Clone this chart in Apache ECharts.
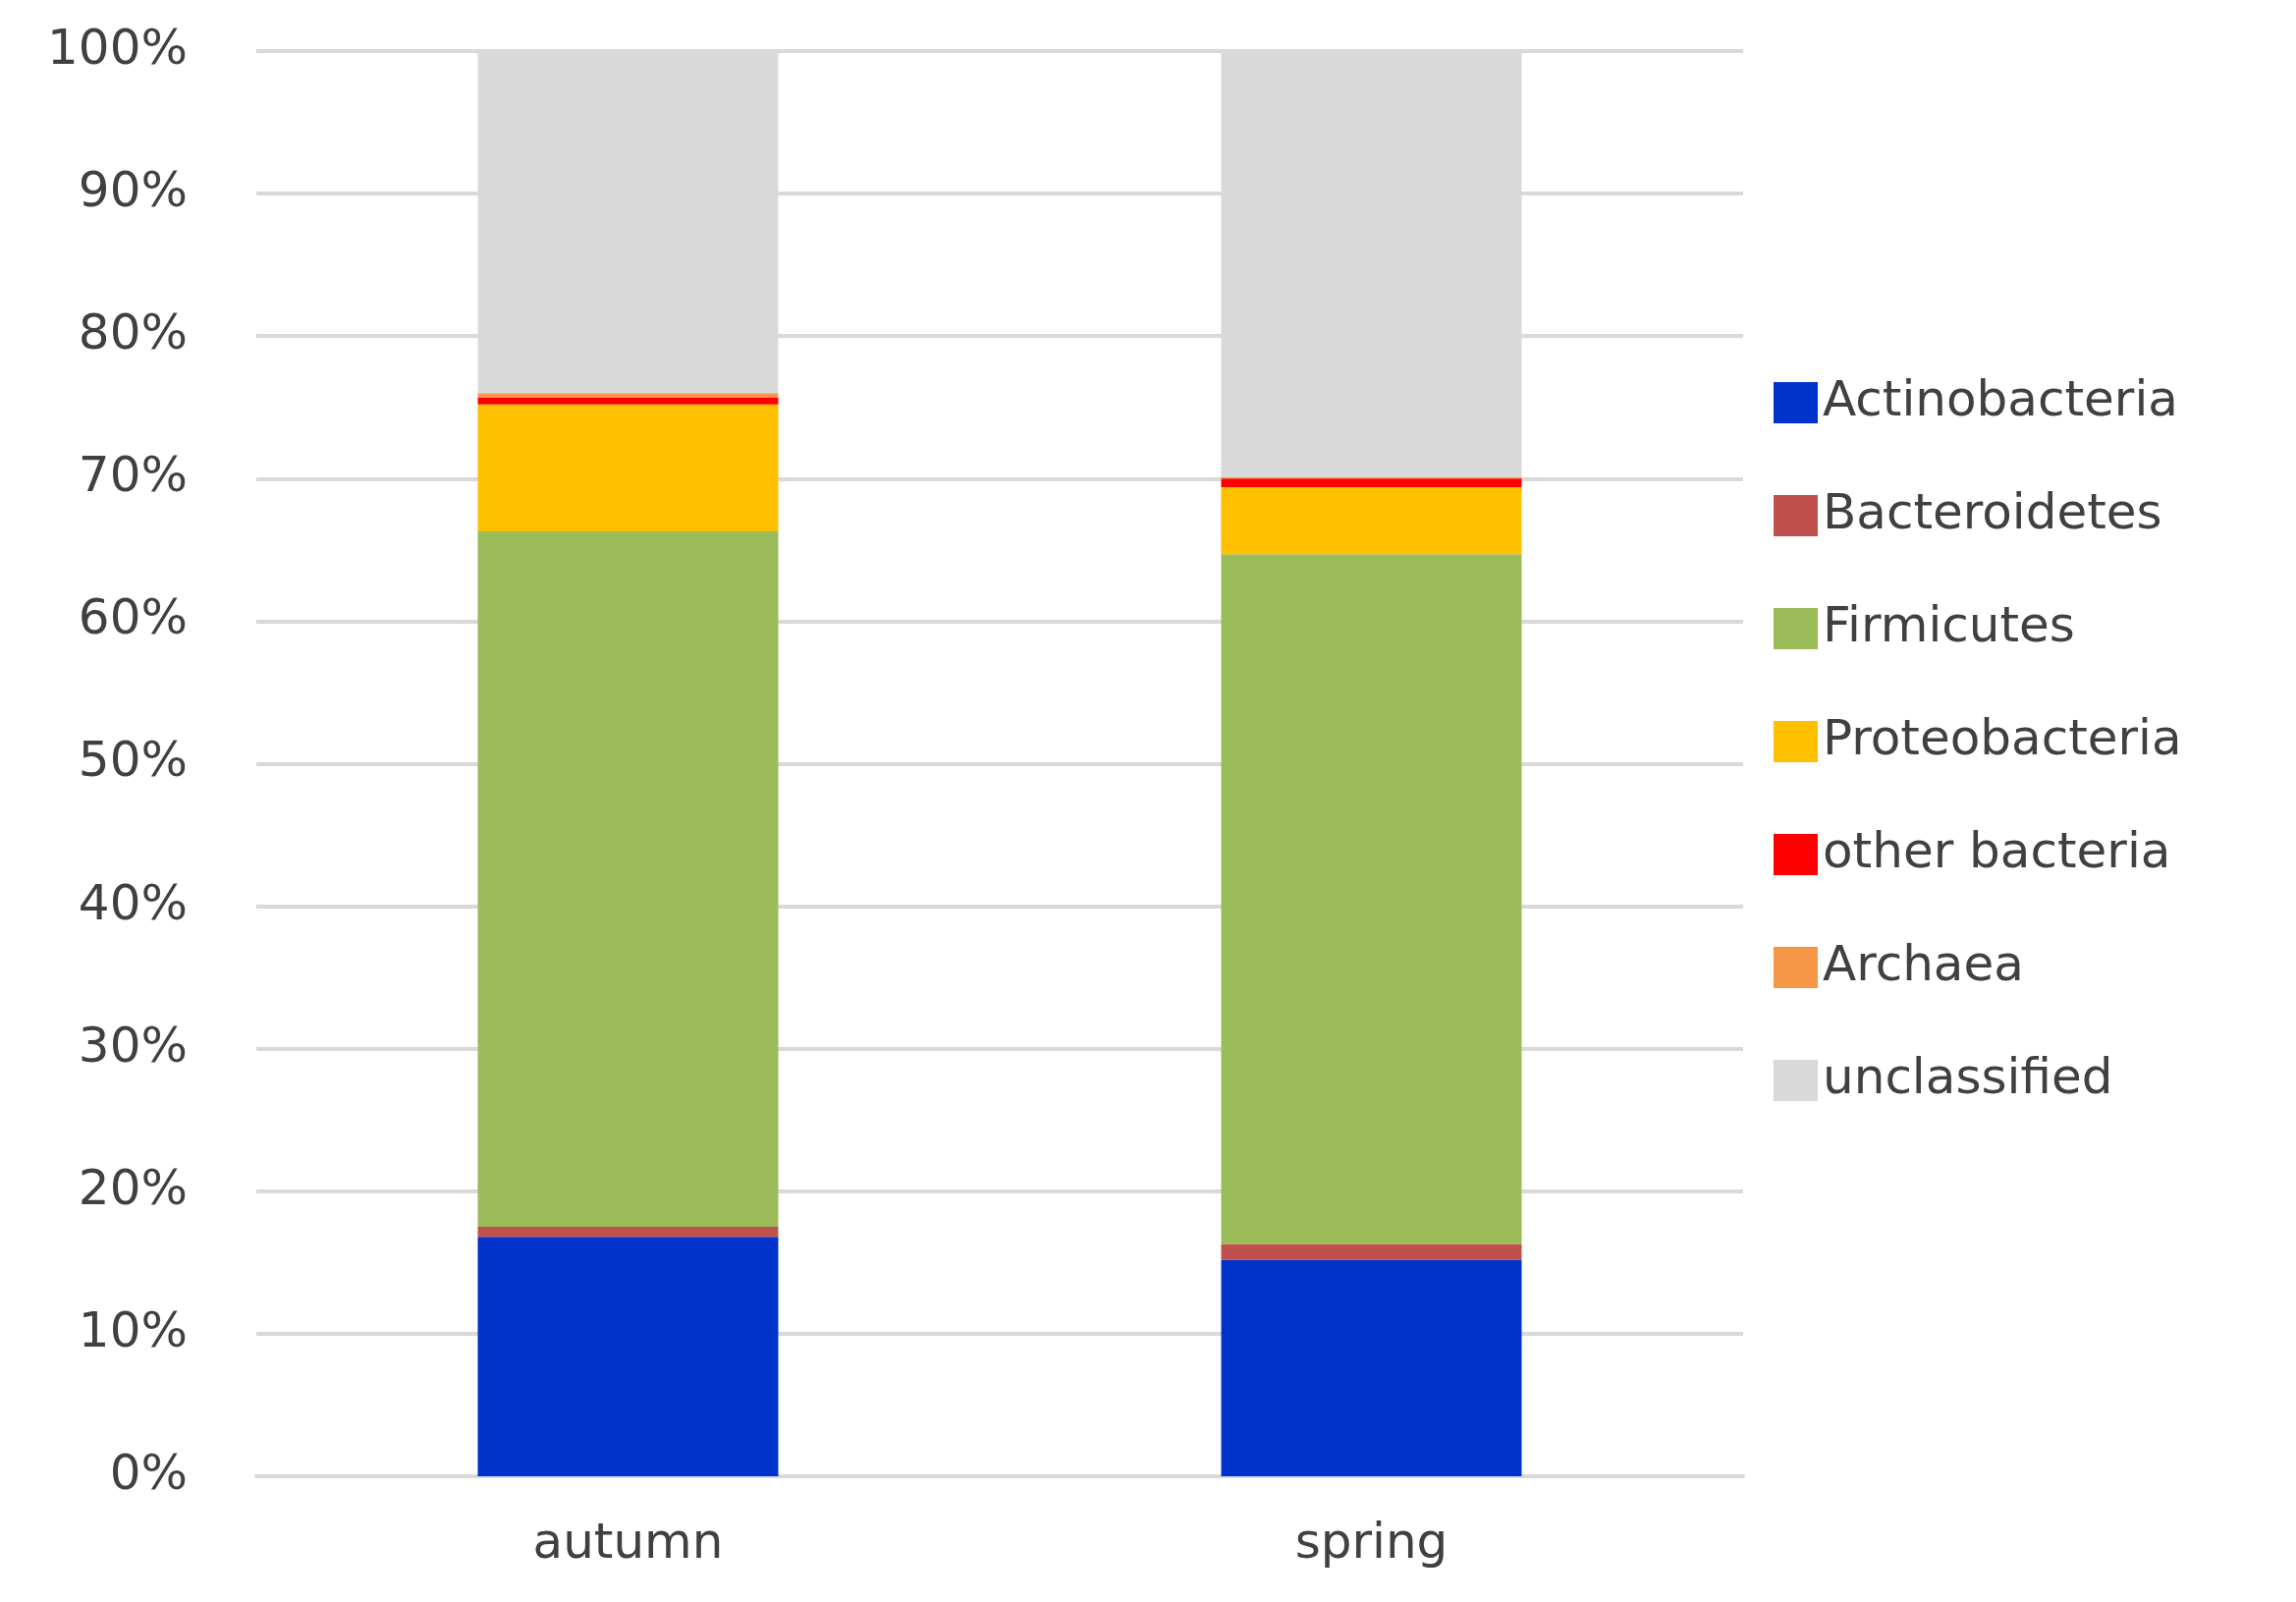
<!DOCTYPE html>
<html>
<head>
<meta charset="utf-8">
<script src="https://cdn.jsdelivr.net/npm/echarts@6/dist/echarts.min.js"></script>
<style>html,body{margin:0;padding:0;background:#fff}#chart{width:2338px;height:1631px}</style>
</head>
<body>
<div id="chart"></div>
<script>
var categories = ['autumn', 'spring'];
var seriesNames = ['Actinobacteria', 'Bacteroidetes', 'Firmicutes', 'Proteobacteria', 'other bacteria', 'Archaea', 'unclassified'];
var colors = ['#0033cc', '#c0504d', '#9bbb59', '#ffc000', '#ff0000', '#f79646', '#d9d9d9'];
var actinobacteria = [16.8, 15.2];
var bacteroidetes = [0.7, 1.1];
var firmicutes = [48.8, 48.4];
var proteobacteria = [8.9, 4.7];
var otherBacteria = [0.5, 0.6];
var archaea = [0.3, 0.1];
var unclassified = [24.0, 29.9];
var values = [actinobacteria, bacteroidetes, firmicutes, proteobacteria, otherBacteria, archaea, unclassified];

var chart = echarts.init(document.getElementById('chart'));
var series = [];
for (var i = 0; i < seriesNames.length; i++) {
	series.push({
		name: seriesNames[i],
		type: 'bar',
		stack: 'total',
		barWidth: 306,
		data: values[i],
		itemStyle: { color: colors[i] }
	});
}
chart.setOption({
	animation: false,
	textStyle: { fontFamily: 'DejaVu Sans' },
	color: colors,
	grid: { left: 261, right: 563, top: 52, bottom: 128 },
	legend: {
		orient: 'vertical',
		left: 1801,
		top: 380,
		itemWidth: 45,
		itemHeight: 42,
		itemGap: 65,
		icon: 'rect',
		textStyle: { fontSize: 50, color: '#404040', fontFamily: 'DejaVu Sans' },
		data: seriesNames
	},
	xAxis: {
		type: 'category',
		data: categories,
		axisLine: { lineStyle: { color: '#d9d9d9', width: 4 } },
		axisTick: { show: false },
		axisLabel: { fontSize: 50, color: '#404040', margin: 45 }
	},
	yAxis: {
		type: 'value',
		min: 0,
		max: 100,
		interval: 10,
		axisLine: { show: false },
		axisTick: { show: false },
		splitLine: { lineStyle: { color: '#d9d9d9', width: 4 } },
		axisLabel: { fontSize: 50, color: '#404040', margin: 70, formatter: '{value}%' }
	},
	series: series
});
</script>
</body>
</html>
